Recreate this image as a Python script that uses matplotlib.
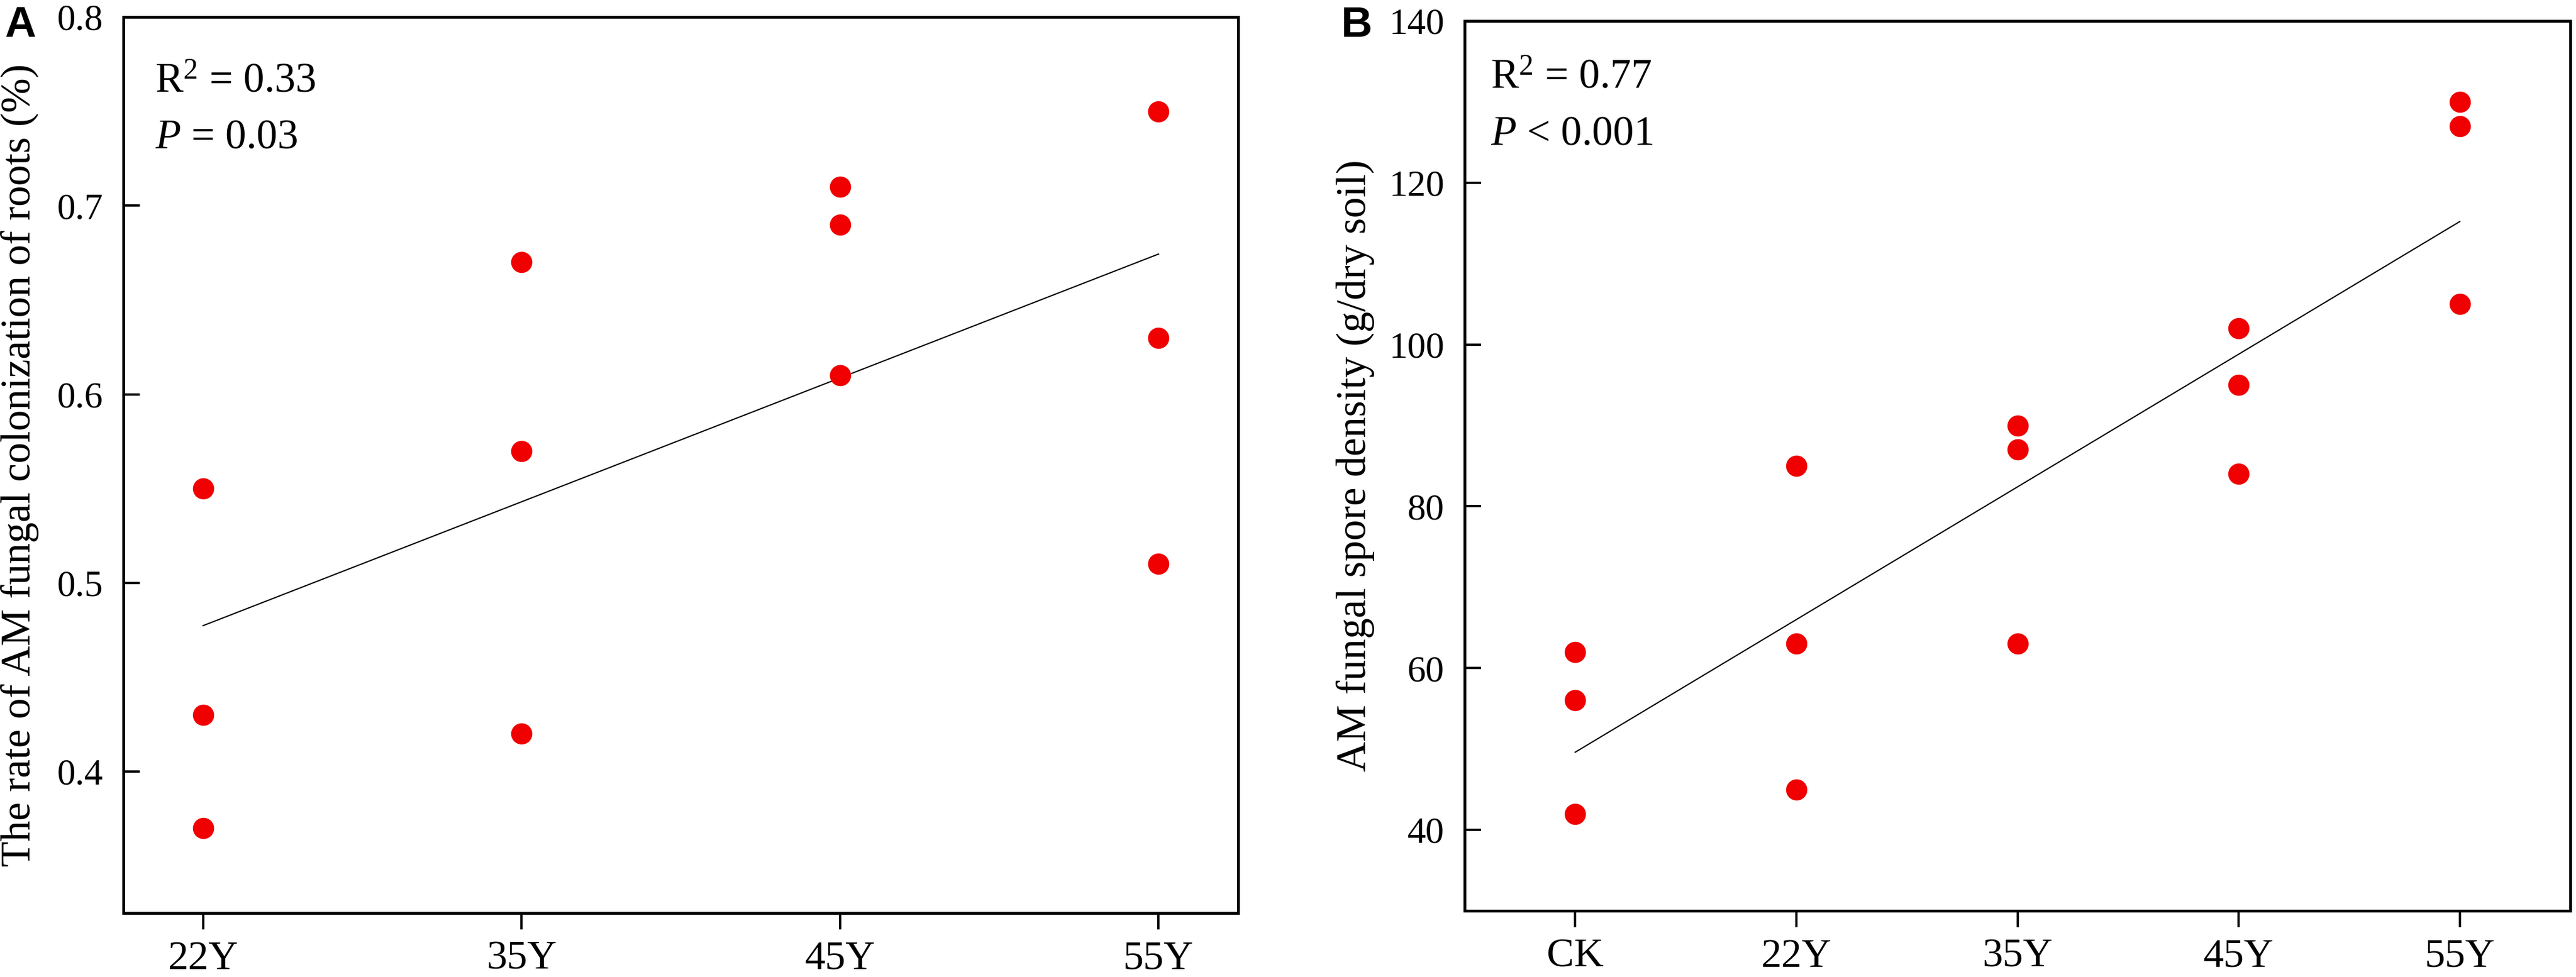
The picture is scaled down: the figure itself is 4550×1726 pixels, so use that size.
import numpy as np
import matplotlib
matplotlib.use('Agg')
import matplotlib.pyplot as plt

# Дані панелі A: частка колонізації коренів
groups_a = ['22Y', '35Y', '45Y', '55Y']
colon_22 = [0.55, 0.43, 0.37]
colon_35 = [0.67, 0.57, 0.42]
colon_45 = [0.71, 0.69, 0.61]
colon_55 = [0.75, 0.63, 0.51]

# Дані панелі B: щільність спор
groups_b = ['CK', '22Y', '35Y', '45Y', '55Y']
spore_ck = [62, 56, 42]
spore_22 = [85, 63, 45]
spore_35 = [90, 87, 63]
spore_45 = [102, 95, 84]
spore_55 = [130, 127, 105]

plt.rcParams['font.family'] = ['Liberation Serif', 'DejaVu Serif']
plt.rcParams['mathtext.fontset'] = 'custom'
plt.rcParams['mathtext.rm'] = 'Liberation Serif'
plt.rcParams['mathtext.it'] = 'Liberation Serif:italic'

W, H = 4550, 1726
fig = plt.figure(figsize=(W / 100, H / 100), dpi=100)

ax_a = fig.add_axes([218 / W, 1 - 1613 / H, (2187 - 218) / W, (1613 - 30) / H])
ax_b = fig.add_axes([2587 / W, 1 - 1609 / H, (4540 - 2587) / W, (1609 - 37) / H])


def draw_panel(ax, groups, series):
    xs = []
    ys = []
    for i, vals in enumerate(series):
        xs += [i] * len(vals)
        ys += list(vals)
    xs = np.array(xs, dtype=float)
    ys = np.array(ys, dtype=float)
    ax.plot(xs, ys, 'o', color='#f00000', markersize=27, markeredgewidth=0, zorder=3)
    # Лінійна регресія
    k, b = np.polyfit(xs, ys, 1)
    x_line = np.array([0, len(groups) - 1])
    ax.plot(x_line, k * x_line + b, color='black', linewidth=1.6, zorder=2)
    ax.set_xticks(range(len(groups)))
    ax.set_xticklabels(groups)
    for s in ax.spines.values():
        s.set_linewidth(3.6)
    ax.tick_params(axis='y', direction='in', length=21, width=3, labelsize=47, pad=26)
    ax.tick_params(axis='x', direction='out', length=21, width=3, labelsize=52, pad=14)


draw_panel(ax_a, groups_a, [colon_22, colon_35, colon_45, colon_55])
ax_a.set_xlim(-0.25, 3.25)
ax_a.set_ylim(0.325, 0.8)
ax_a.set_yticks([0.4, 0.5, 0.6, 0.7, 0.8])
ax_a.set_yticklabels(['0.4', '0.5', '0.6', '0.7', '0.8'])
ax_a.set_ylabel('The rate of AM fungal colonization of roots (%)', fontsize=53, va='center')
ax_a.yaxis.set_label_coords(-0.093, 0.5)
ax_a.text(0.0284, 0.9166, r'R$^{2}$ = 0.33', transform=ax_a.transAxes, fontsize=53, va='baseline')
ax_a.text(0.0284, 0.8535, r'$P$ = 0.03', transform=ax_a.transAxes, fontsize=53, va='baseline')

draw_panel(ax_b, groups_b, [spore_ck, spore_22, spore_35, spore_45, spore_55])
ax_b.set_xlim(-0.5, 4.5)
ax_b.set_ylim(30, 140)
ax_b.set_yticks([40, 60, 80, 100, 120, 140])
ax_b.set_ylabel('AM fungal spore density (g/dry soil)', fontsize=53, va='center')
ax_b.yaxis.set_label_coords(-0.099, 0.5)
ax_b.text(0.0236, 0.9248, r'R$^{2}$ = 0.77', transform=ax_b.transAxes, fontsize=53, va='baseline')
ax_b.text(0.0236, 0.861, r'$P$ < 0.001', transform=ax_b.transAxes, fontsize=53, va='baseline')

# Літери панелей
fig.text(8 / W, 1 - 65 / H, 'A', fontsize=55, fontweight='bold', family='Liberation Sans', va='baseline')
fig.text(2369 / W, 1 - 65 / H, 'B', fontsize=55, fontweight='bold', family='Liberation Sans', va='baseline')

fig.savefig('out.png', dpi=100)
